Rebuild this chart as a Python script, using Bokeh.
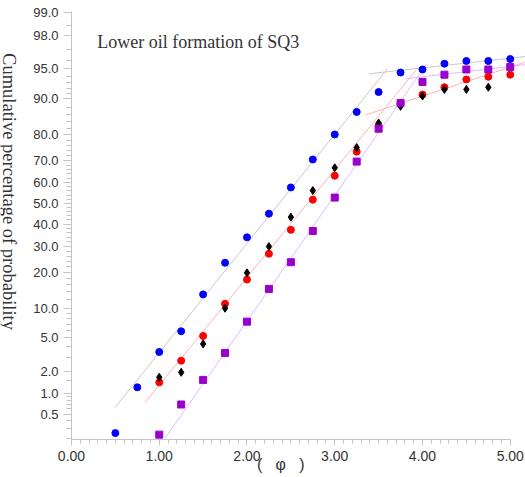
from statistics import NormalDist
import math
from bokeh.plotting import figure
from bokeh.models import Range1d, FixedTicker, Label, PrintfTickFormatter
from bokeh.embed import file_html
from bokeh.resources import INLINE

# ---- data (phi, cumulative %) ----
blue_x = [0.5, 0.75, 1.0, 1.25, 1.5, 1.75, 2.0, 2.25, 2.5, 2.75, 3.0, 3.25, 3.5, 3.75, 4.0, 4.25, 4.5, 4.75, 5.0]
blue_y = [0.25, 1.23, 3.47, 5.9, 13.3, 23.4, 33.9, 45.0, 57.7, 70.4, 80.0, 86.8, 91.3, 94.5, 94.9, 95.6, 95.9, 95.9, 96.1]

black_x = [1.0, 1.25, 1.5, 1.75, 2.0, 2.25, 2.5, 2.75, 3.0, 3.25, 3.5, 3.75, 4.0, 4.25, 4.5, 4.75]
black_y = [1.68, 1.95, 4.3, 10.0, 19.8, 29.9, 43.3, 56.2, 66.8, 75.2, 83.7, 88.2, 90.5, 91.8, 91.8, 92.2]

red_x = [1.0, 1.25, 1.5, 1.75, 2.0, 2.25, 2.5, 2.75, 3.0, 3.25, 3.5, 3.75, 4.0, 4.25, 4.5, 4.75, 5.0]
red_y = [1.44, 2.73, 5.26, 11.0, 17.6, 26.9, 37.3, 51.8, 63.2, 73.6, 82.9, 88.9, 90.8, 92.2, 93.5, 93.9, 94.2]

purple_x = [1.0, 1.25, 1.5, 1.75, 2.0, 2.25, 2.5, 2.75, 3.0, 3.25, 3.5, 3.75, 4.0, 4.25, 4.5, 4.75, 5.0]
purple_y = [0.236, 0.70, 1.55, 3.38, 7.42, 14.8, 23.6, 36.8, 52.8, 69.5, 81.9, 89.0, 93.1, 94.2, 94.9, 94.9, 95.2]

# fitted segments (endpoints)
gray_steep_x = [0.497, 3.601]
gray_steep_y = [0.633, 94.99]
gray_flat_x = [3.391, 5.177]
gray_flat_y = [94.33, 96.36]
red_steep_x = [0.835, 3.924]
red_steep_y = [0.736, 94.8]
red_flat_x = [3.354, 5.177]
red_flat_y = [86.0, 95.8]
purple_steep_x = [1.055, 4.049]
purple_steep_y = [0.194, 95.6]
purple_flat_x = [3.810, 5.177]
purple_flat_y = [93.6, 95.5]

x_ticks = [0, 1, 2, 3, 4, 5]
y_major_pct = [0.5, 1, 2, 5, 10, 20, 30, 40, 50, 60, 70, 80, 90, 95, 98, 99]
y_minor_pct = ([0.2, 0.3, 0.4, 0.5, 0.6, 0.7, 0.8, 0.9, 1.0, 1.5, 2, 3, 4, 5, 6, 7, 8, 9, 10]
               + list(range(12, 90, 2)) + [90, 91, 92, 93, 94, 95, 96, 97, 98, 98.5, 99])

NB = "\u00a0"
title_text = "Lower oil formation of SQ3"
ylabel_text = "Cumulative percentage of probability"
xlabel_text = NB * 8 + "(" + NB * 3 + "\u03c6" + NB * 3 + ")"

nd = NormalDist()


def pz(p):
    return round(nd.inv_cdf(p / 100.0), 6)


def pzs(lst):
    return [pz(v) for v in lst]


y_lo, y_top_axis, y_hi = -2.885, 2.345, 2.478
p = figure(width=525, height=477,
           x_range=Range1d(-0.8091, 5.1738), y_range=Range1d(y_lo, y_hi),
           output_backend="svg", toolbar_location=None,
           min_border_left=0, min_border_right=0, min_border_top=0, min_border_bottom=38)
p.xgrid.visible = False
p.ygrid.visible = False
p.outline_line_color = None
p.background_fill_color = "white"
p.border_fill_color = "white"

axc = "#c4c4c4"
for ax in (p.xaxis, p.yaxis):
    ax.axis_line_color = axc
    ax.major_tick_line_color = axc
    ax.minor_tick_line_color = axc
    ax.major_tick_in = 0
    ax.minor_tick_in = 0
    ax.major_label_text_color = "#333333"
    ax.major_label_text_font = "Liberation Sans"
    ax.axis_label_text_color = "#333333"
    ax.axis_label_text_font_style = "normal"

p.xaxis.ticker = FixedTicker(ticks=x_ticks, minor_ticks=[i / 10 for i in range(51)])
p.xaxis.formatter = PrintfTickFormatter(format="%.2f")
p.xaxis.bounds = (0, 5)
p.xaxis.major_tick_out = 6
p.xaxis.minor_tick_out = 4
p.xaxis.major_label_standoff = 5
p.xaxis.major_label_text_font_size = "14px"
p.xaxis.axis_label = xlabel_text
p.xaxis.axis_label_text_font = "Liberation Sans"
p.xaxis.axis_label_text_font_size = "16px"
p.xaxis.axis_label_standoff = -8

zmaj = pzs(y_major_pct)
p.yaxis.ticker = FixedTicker(ticks=zmaj, minor_ticks=pzs(y_minor_pct))
p.yaxis.major_label_overrides = {z: "%.1f" % v for z, v in zip(zmaj, y_major_pct)}
p.yaxis.major_tick_out = 8
p.yaxis.minor_tick_out = 5
p.yaxis.major_label_standoff = 5
p.yaxis.major_label_text_font_size = "13px"
p.yaxis.fixed_location = 0
p.yaxis.bounds = (y_lo, y_top_axis)

# fitted lines
p.line(gray_steep_x, pzs(gray_steep_y), line_color="#c8c8c8", line_width=1)
p.line(gray_flat_x, pzs(gray_flat_y), line_color="#c8c8c8", line_width=1)
p.line(red_steep_x, pzs(red_steep_y), line_color="#ffb4b4", line_width=1)
p.line(red_flat_x, pzs(red_flat_y), line_color="#ffb4b4", line_width=1)
p.line(purple_steep_x, pzs(purple_steep_y), line_color="#e2b8ff", line_width=1)
p.line(purple_flat_x, pzs(purple_flat_y), line_color="#e2b8ff", line_width=1)

# points
p.scatter(red_x, pzs(red_y), marker="circle", size=7, fill_color="#ff0000", line_color="#ff0000")
p.scatter(black_x, pzs(black_y), marker="diamond", size=8, fill_color="#000000", line_color="#000000")
p.scatter(purple_x, pzs(purple_y), marker="square", size=7, fill_color="#9900cc", line_color="#9900cc")
p.scatter(blue_x, pzs(blue_y), marker="circle", size=7, fill_color="#0000ff", line_color="#0000ff")

# title inside the frame
p.add_layout(Label(x=0.293, y=1.969, text=title_text, text_font="Liberation Serif",
                   text_font_size="18px", text_color="#333333",
                   text_align="left", text_baseline="alphabetic"))
# y title, reading top to bottom
p.add_layout(Label(x=-0.7066, y=0.144, text=ylabel_text, text_font="Liberation Serif",
                   text_font_size="18.5px", text_color="#333333", angle=-math.pi / 2,
                   text_align="center", text_baseline="middle"))

open("out.html", "w").write(file_html(p, INLINE))
